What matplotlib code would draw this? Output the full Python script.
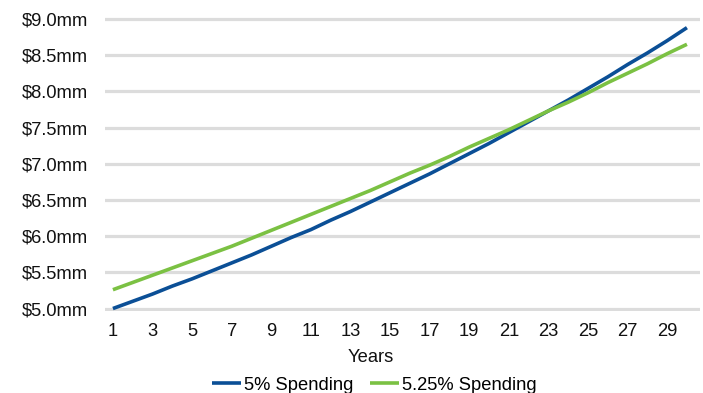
import matplotlib
matplotlib.use("Agg")
import matplotlib.pyplot as plt

# ── data ─────────────────────────────────────────────────────────────────────
years = list(range(1, 31))

spend_5 = [5.00, 5.10, 5.20, 5.31, 5.41, 5.52, 5.63, 5.74, 5.86, 5.98,
           6.09, 6.22, 6.34, 6.47, 6.60, 6.73, 6.86, 7.00, 7.14, 7.28,
           7.43, 7.58, 7.73, 7.88, 8.04, 8.20, 8.37, 8.53, 8.70, 8.88]

spend_525 = [5.26, 5.36, 5.46, 5.56, 5.66, 5.76, 5.86, 5.97, 6.08, 6.19,
             6.30, 6.41, 6.52, 6.63, 6.75, 6.87, 6.98, 7.10, 7.23, 7.35,
             7.47, 7.60, 7.73, 7.85, 7.98, 8.12, 8.25, 8.38, 8.52, 8.65]

y_ticks = [5.0, 5.5, 6.0, 6.5, 7.0, 7.5, 8.0, 8.5, 9.0]
x_ticks = list(range(1, 31, 2))

BLUE = "#0b4f96"
GREEN = "#7bc143"
GRID = "#dcdcdc"

plt.rcParams["font.family"] = ["Liberation Sans", "DejaVu Sans"]

W, H = 703, 393
fig = plt.figure(figsize=(W / 100, H / 100), dpi=100)

# axes placement in pixels
left, right = 105, 700
top, bottom = 16.8, 310.7
ax = fig.add_axes([left / W, 1 - bottom / H, (right - left) / W, (bottom - top) / H])

ax.plot(years, spend_5, color=BLUE, lw=2.6, label="5% Spending", zorder=3,
        solid_capstyle="butt", solid_joinstyle="round")
ax.plot(years, spend_525, color=GREEN, lw=2.6, label="5.25% Spending", zorder=3,
        solid_capstyle="butt", solid_joinstyle="round")

ax.set_xlim(0.6, 30.66)
ax.set_ylim(4.97, 9.03)
ax.set_yticks(y_ticks)
ax.set_yticklabels([f"${v:.1f}mm" for v in y_ticks])
ax.set_xticks(x_ticks)

ax.grid(axis="y", color=GRID, lw=2.3, zorder=0)
ax.set_axisbelow(True)
for s in ax.spines.values():
    s.set_visible(False)
ax.tick_params(axis="both", length=0, labelsize=13.2, colors="#111111")
ax.tick_params(axis="y", pad=12)
ax.tick_params(axis="x", pad=8.5)

fig.text(371 / W, 1 - 357 / H, "Years", ha="center", va="center",
         fontsize=13.2, color="#111111")

fig.legend(loc="center", bbox_to_anchor=(374 / W, 1 - 385 / H), ncol=2,
           frameon=False, fontsize=13.2, handlelength=1.6, handletextpad=0.15,
           columnspacing=0.9, borderpad=0)

fig.savefig("out.png", dpi=100)
